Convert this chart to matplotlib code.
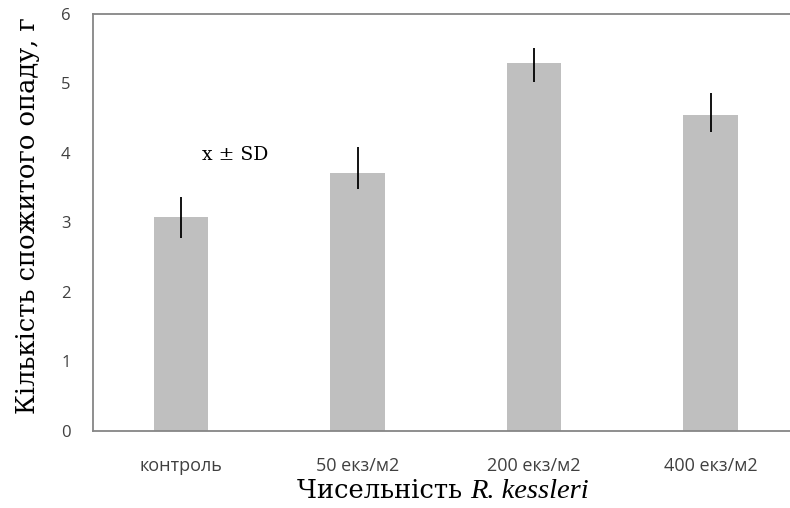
import matplotlib
matplotlib.use("Agg")
import matplotlib.pyplot as plt
import numpy as np

# Consumed litter per density treatment (mean with lower/upper deviation)
categories = ["контроль", "50 екз/м2", "200 екз/м2", "400 екз/м2"]
means = [3.07, 3.71, 5.30, 4.54]
err_low = [0.29, 0.23, 0.28, 0.24]
err_high = [0.29, 0.37, 0.21, 0.32]
yticks = [0, 1, 2, 3, 4, 5, 6]

W, H = 790, 508
fig = plt.figure(figsize=(W / 100, H / 100), dpi=100)
ax = fig.add_axes([92.75 / W, 77.3 / H, 706 / W, 416.7 / H])

x = np.arange(len(categories))
ax.bar(x, means, width=0.306, color="#BFBFBF", zorder=2)
ax.errorbar(x, means, yerr=[err_low, err_high], fmt="none",
            ecolor="black", elinewidth=1.3, capsize=0, zorder=3)

ax.set_xlim(-0.5, len(categories) - 0.5)
ax.set_ylim(0, 6)
ax.set_yticks(yticks)
ax.set_xticks(x)
ax.set_xticklabels(categories)

for side in ["left", "top", "right", "bottom"]:
    ax.spines[side].set_color("#868686")
    ax.spines[side].set_linewidth(1.3)

ax.tick_params(axis="y", length=0, pad=16, labelsize=12, labelcolor="#404040")
ax.tick_params(axis="x", length=0, pad=19, labelsize=13, labelcolor="#404040")
for lab in ax.get_xticklabels() + ax.get_yticklabels():
    lab.set_family(["Open Sans", "DejaVu Sans"])

# Y axis title
fig.text(28 / W, 1 - 216 / H, "Кількість спожитого опаду, г",
         family="DejaVu Serif", fontsize=18.5, rotation=90,
         ha="center", va="center")

# X axis title: upright Cyrillic part followed by the italic species name
base_y = (H - 498) / H
t1 = fig.text(0, base_y, "Чисельність ", family="DejaVu Serif",
              fontsize=18.5, ha="left", va="baseline")
t2 = fig.text(0, base_y, "R. kessleri", family="Liberation Serif",
              style="italic", fontsize=20.5, ha="left", va="baseline")
renderer = fig.canvas.get_renderer()
w1 = t1.get_window_extent(renderer).width
w2 = t2.get_window_extent(renderer).width
start = 443 - (w1 + w2) / 2
t1.set_x(start / W)
t2.set_x((start + w1) / W)

ax.text(0.306, 3.97, "x ± SD", family="DejaVu Serif", fontsize=13.5,
        ha="center", va="center")

fig.savefig("out.png", dpi=100)
